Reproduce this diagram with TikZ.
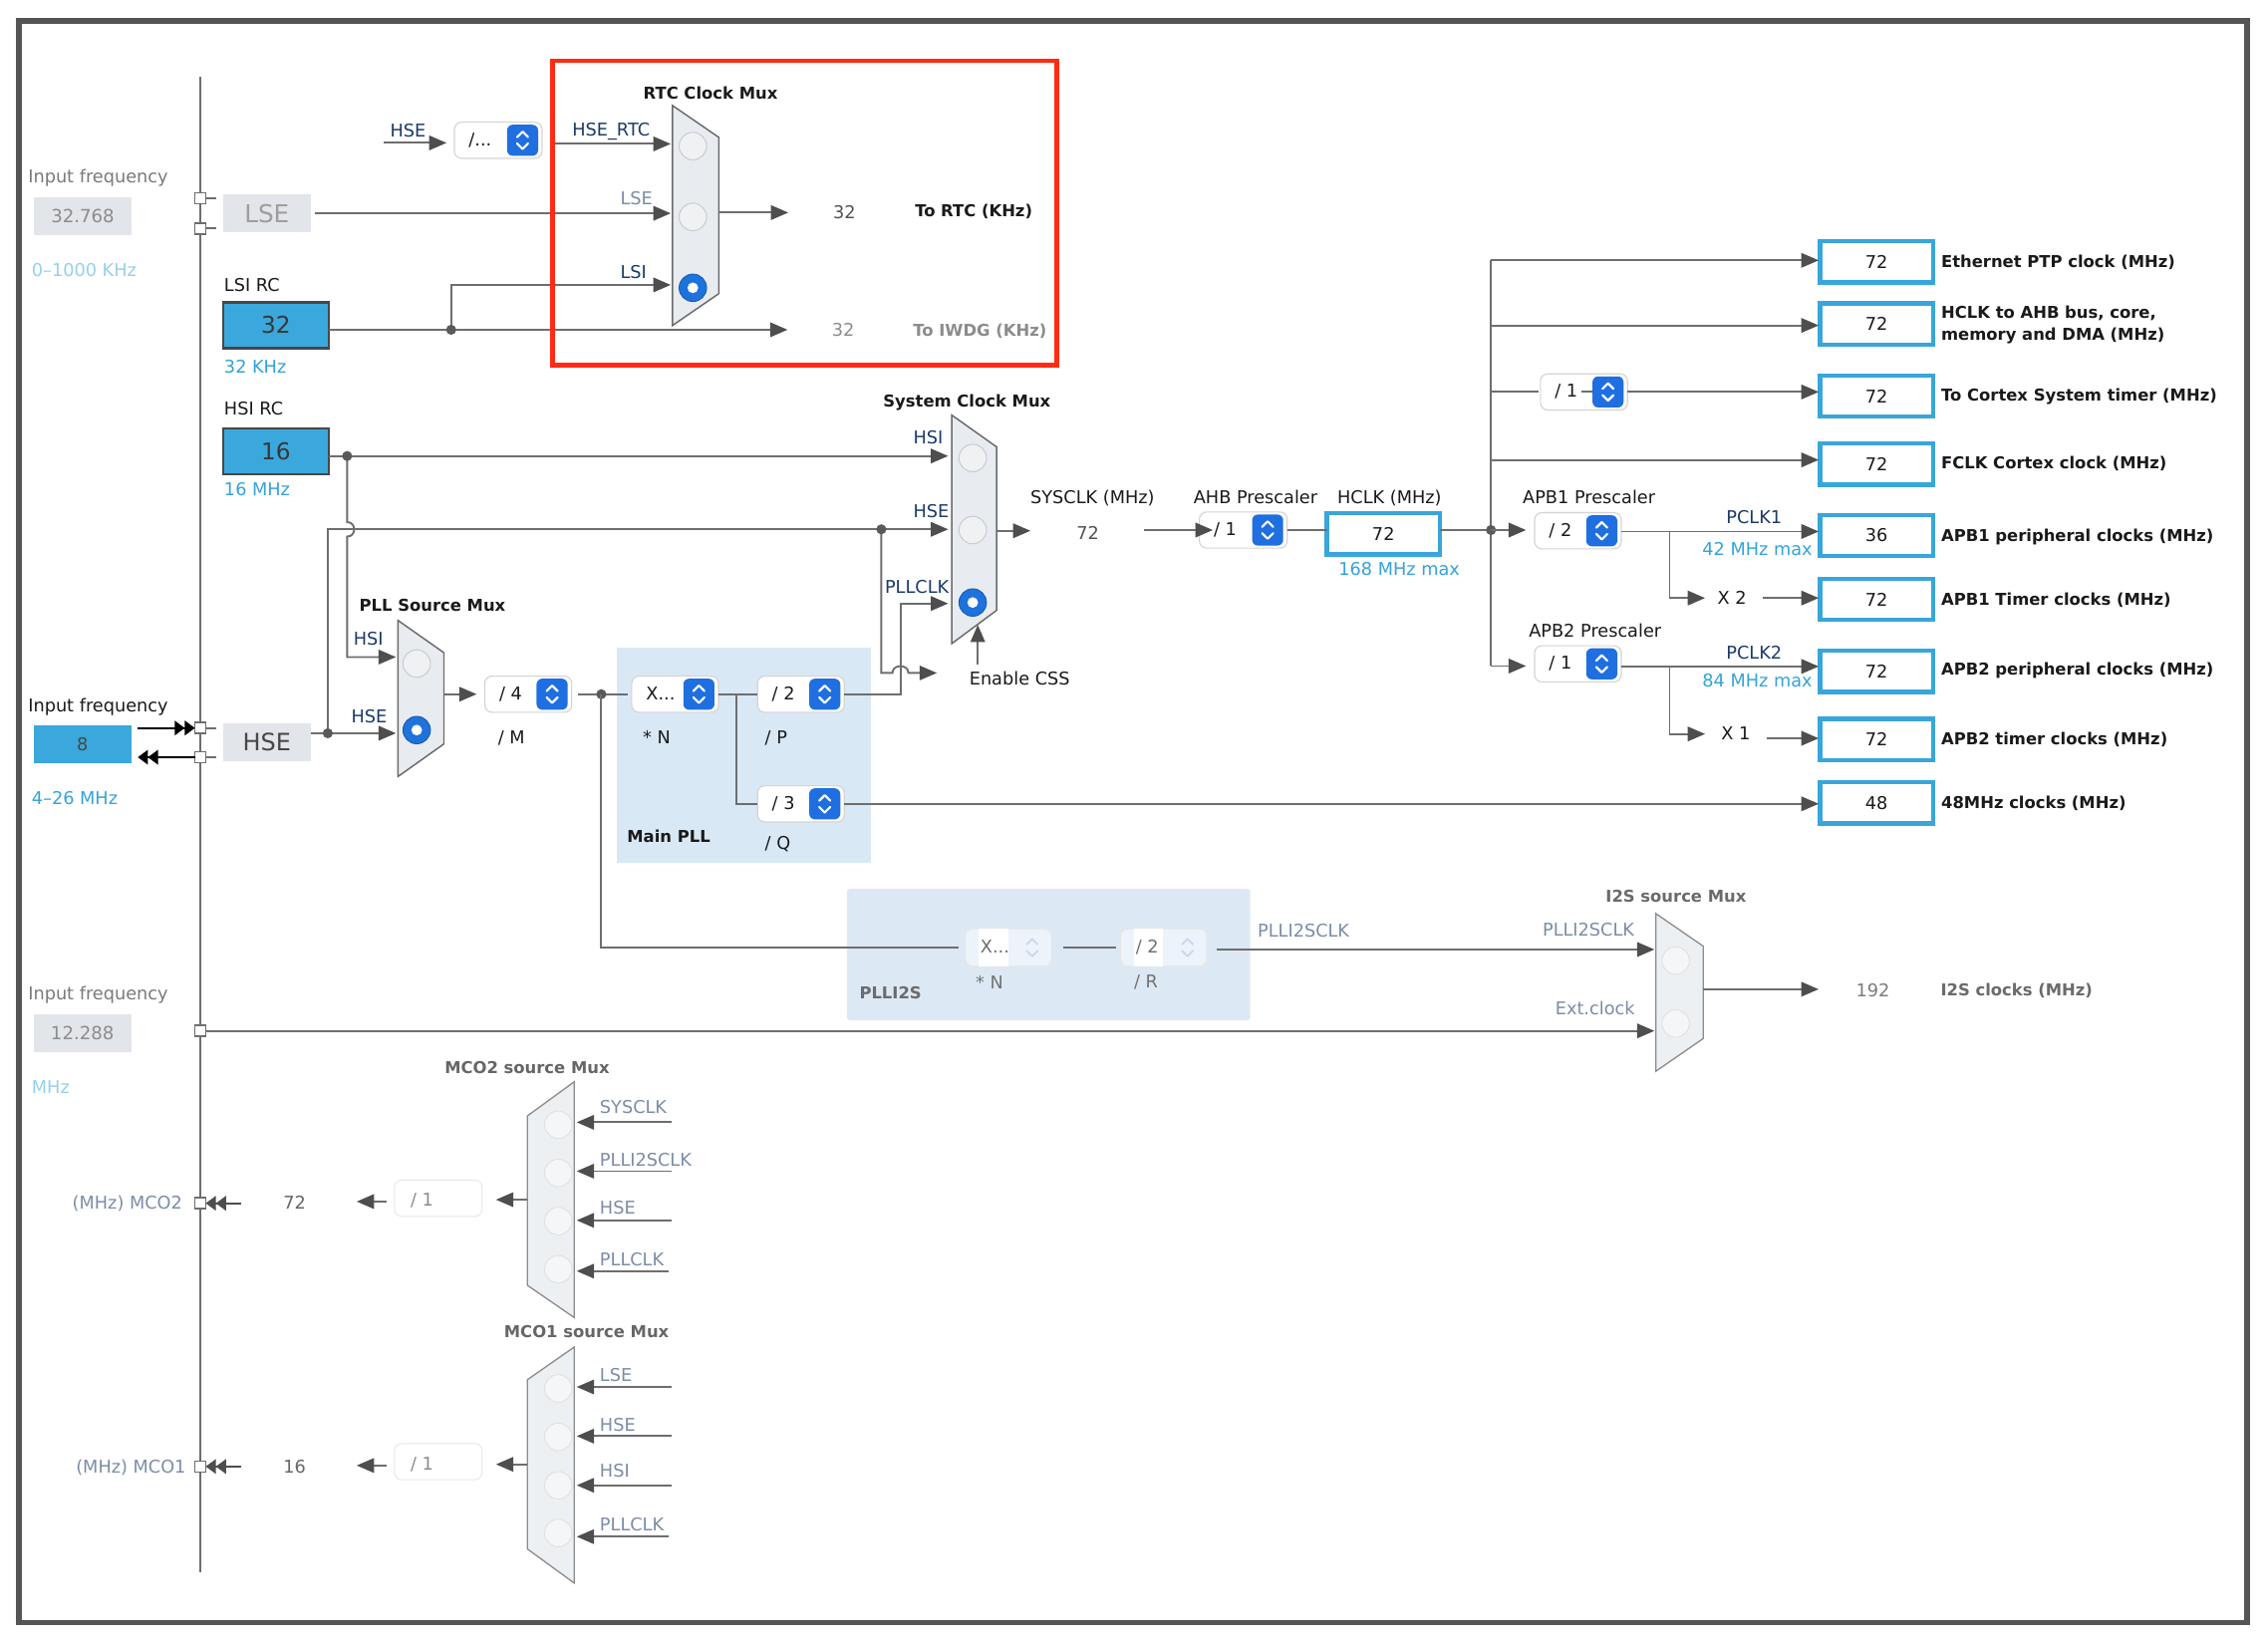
\documentclass[tikz,border=0pt]{standalone}
\usepackage{fontspec}
\setmainfont{DejaVu Sans}
\usetikzlibrary{arrows.meta,calc}
\definecolor{txt}{HTML}{1A1A1A}
\definecolor{linec}{HTML}{6E6E6E}
\definecolor{tipc}{HTML}{4E4E4E}
\definecolor{framec}{HTML}{555555}
\definecolor{navy}{HTML}{1B3A6B}
\definecolor{gtext}{HTML}{7A7A7A}
\definecolor{btext}{HTML}{33A3DA}
\definecolor{lbtext}{HTML}{95CFEE}
\definecolor{gbtext}{HTML}{7C8CA7}
\definecolor{boxblue}{HTML}{3AA8DC}
\definecolor{obord}{HTML}{38A6DB}
\definecolor{gboxc}{HTML}{E2E5E9}
\definecolor{muxf}{HTML}{E8ECF0}
\definecolor{muxd}{HTML}{6A6A6A}
\definecolor{fmuxf}{HTML}{EDF0F3}
\definecolor{fmuxd}{HTML}{8C8C8C}
\definecolor{radf}{HTML}{EFF1F3}
\definecolor{radd}{HTML}{C8CCD1}
\definecolor{selb}{HTML}{1E72DB}
\definecolor{spinb}{HTML}{1F6FE0}
\definecolor{pllreg}{HTML}{D9E8F5}
\definecolor{i2sreg}{HTML}{DCE9F5}
\definecolor{redc}{HTML}{FF2B14}
\definecolor{fadetxt}{HTML}{6E6E6E}
\definecolor{fadechev}{HTML}{C9D7E6}
\definecolor{dotc}{HTML}{5A5A5A}

\newcommand\pbox[5]{%
  \node[pbx, minimum width=#4pt, anchor=west] (#1) at (#2,#3) {};
  \node[anchor=mid west, yshift=-1pt] (#1-t) at ($(#1.west)+(10,0)$) {#5};
  \node[spn] (#1-s) at ($(#1.east)+(-13.5,0)$) {};
  \draw[white, line width=1.5pt, line cap=round, line join=round]
    ($(#1-s.center)+(-3.8,-2.2)$) -- ++(3.8,-3.8) -- ++(3.8,3.8)
    ($(#1-s.center)+(-3.8,2.2)$) -- ++(3.8,3.8) -- ++(3.8,-3.8);
}
\newcommand\fadedbox[5]{%
  \node[fbx] (#1) at (#2,#3) {};
  \fill[white] ($(#1.west)+(9.2,-12.8)$) rectangle ++(#5,25.6);
  \node[anchor=mid west, yshift=-1pt, text=fadetxt] (#1-t) at ($(#1.west)+(10.5,0)$) {#4};
  \draw[fadechev, line width=1.2pt, line cap=round, line join=round]
    ($(#1.east)+(-17.3,-2.2)$) -- ++(3.8,-3.8) -- ++(3.8,3.8)
    ($(#1.east)+(-17.3,2.2)$) -- ++(3.8,3.8) -- ++(3.8,-3.8);
}

\begin{document}
\begin{tikzpicture}[x=1pt,y=-1pt,
  every node/.append style={inner sep=0pt, outer sep=0pt, text=txt, font=\fontsize{12.2}{14}\selectfont},
  ln/.style={draw=linec, line width=1.3pt},
  ar/.style={ln, -{Triangle[length=12pt,width=10pt,color=tipc]}},
  dar/.style={draw=#1, line width=1.3pt, -{Triangle[length=7pt,width=10pt,color=#1]Triangle[length=7pt,width=10pt,color=#1]}},
  tx/.style={anchor=mid west, yshift=-1.5pt},
  tc/.style={anchor=mid, yshift=-1.5pt},
  te/.style={anchor=mid east, yshift=-1.5pt},
  btx/.style={font=\fontsize{11.3}{13}\selectfont\bfseries},
  pbx/.style={rectangle, rounded corners=5pt, fill=white, draw=black!17, line width=0.8pt, minimum height=25pt},
  fbx/.style={rectangle, rounded corners=5pt, fill=white!45!i2sreg, draw=black!10, line width=0.7pt, minimum width=59.7pt, minimum height=26pt},
  wbx/.style={rectangle, rounded corners=5pt, fill=white, draw=black!9, line width=0.7pt, minimum width=60.6pt, minimum height=25pt},
  spn/.style={rectangle, rounded corners=4pt, fill=spinb, minimum width=21.5pt, minimum height=21.5pt},
  radio/.style={circle, minimum size=19pt, fill=radf, draw=radd, line width=0.7pt},
  fradio/.style={circle, minimum size=19pt, fill=white!40!fmuxf, draw=black!12, line width=0.6pt},
  radiosel/.style={circle, minimum size=19pt, fill=selb, draw=selb!80!black, line width=0.6pt,
     path picture={\fill[white] (path picture bounding box.center) circle (3.7pt);}},
  dot/.style={circle, fill=dotc, minimum size=7pt},
  sq/.style={rectangle, draw=linec, fill=white, line width=1.1pt, minimum size=7.5pt},
  gbox/.style={rectangle, fill=gboxc},
  bbox/.style={rectangle, fill=boxblue, draw=black!72, line width=1.8pt, minimum width=73.2pt, minimum height=31.6pt, text=black!78, font=\fontsize{16}{16}\selectfont},
  obox/.style={rectangle, draw=obord, line width=3pt, fill=white, minimum width=78pt, minimum height=28.5pt},
  mux/.style={fill=muxf, draw=muxd, line width=1pt},
  fmux/.style={fill=fmuxf, draw=fmuxd, line width=0.9pt}
]
\fill[white] (0,0) rectangle (1568,1133);
\useasboundingbox (0,0) rectangle (1568,1133);
\draw[framec, line width=3.8pt] (13,14.5) rectangle (1553.5,1122);

% ---------- regions
\fill[pllreg] (426.5,447.8) rectangle (601.8,596.6);
\fill[i2sreg, rounded corners=2pt] (585.5,614.6) rectangle (864.3,705.4);

% ---------- left bus
\coordinate (busT) at (138.5,53);
\coordinate (busB) at (138.5,1087);
\draw[ln] (busT) -- (busB);

% ---------- LSE
\node[tx, text=gtext] (if1) at (19.5,122.5) {Input frequency};
\node[gbox, minimum width=67.6pt, minimum height=26pt, text=black!45, font=\fontsize{12.5}{14}\selectfont] (lsef) at (57.2,149.4) {32.768};
\node[tx, text=lbtext] (lser) at (22,187) {0–1000 KHz};
\node[sq] (sqL1) at (138.5,137) {};
\node[sq] (sqL2) at (138.5,158) {};
\draw[ln] (sqL1.east) -- ++(7.5,0);
\draw[ln] (sqL2.east) -- ++(7.5,0);
\node[gbox, minimum width=60.5pt, minimum height=26pt, text=black!38, font=\fontsize{17}{17}\selectfont] (lse) at (184.5,147.5) {LSE};

% ---------- LSI / HSI
\node[tx] (lsirc) at (155,197) {LSI RC};
\node[bbox] (lsi) at (190.8,224.8) {32};
\node[tx, text=btext] (lsik) at (155,253.5) {32 KHz};
\node[tx] (hsirc) at (155,283) {HSI RC};
\node[bbox] (hsi) at (190.8,312) {16};
\node[tx, text=btext] (hsim) at (155,338.5) {16 MHz};

% ---------- HSE input
\node[tx] (if2) at (19.5,488) {Input frequency};
\node[rectangle, fill=boxblue, minimum width=67.3pt, minimum height=26.1pt, text=black!72] (hsef) at (57,514.6) {8};
\node[tx, text=btext] (hser) at (22,552) {4–26 MHz};
\node[sq] (sqH1) at (138.5,503.4) {};
\node[sq] (sqH2) at (138.5,523.6) {};
\draw[ln] (sqH1.east) -- ++(7.5,0);
\draw[ln] (sqH2.east) -- ++(7.5,0);
\draw[dar=black] ([xshift=4.6pt]hsef.east |- sqH1) -- (sqH1.west);
\draw[dar=black] (sqH2.west) -- ([xshift=4.6pt]hsef.east |- sqH2);
\node[gbox, minimum width=61pt, minimum height=26pt, text=black!72, font=\fontsize{16.5}{17}\selectfont] (hse) at (184.5,513) {HSE};

% ---------- I2S input
\node[tx, text=gtext] (if3) at (19.5,687.3) {Input frequency};
\node[gbox, minimum width=67.3pt, minimum height=25.7pt, text=black!45, font=\fontsize{12.5}{14}\selectfont] (i2sf) at (57,714.5) {12.288};
\node[tx, text=lbtext] (i2sr) at (22,752) {MHz};
\node[sq] (sqI) at (138.5,712.8) {};

% ---------- RTC mux
\node[btx, tc] (rtct) at (491.2,64.3) {RTC Clock Mux};
\filldraw[mux] (465,73) -- (497,95) -- (497,203) -- (465,225) -- cycle;
\node[radio] (rtcr1) at (479,101) {};
\node[radio] (rtcr2) at (479,150) {};
\node[radiosel] (rtcr3) at (479,199) {};
\coordinate (rtcin1) at (463.7,99.5);
\coordinate (rtcin2) at (463.7,147.5);
\coordinate (rtcin3) at (463.7,197);
\coordinate (rtcout) at (497,147);
\node[tx, text=navy] (hsel1) at (269.8,90.7) {HSE};
\coordinate (hsel1s) at (265,98.8);
\draw[ar] (hsel1s) -- (308.7,98.8);
\pbox{hsediv}{314.1}{97}{60.7}{/...}
\draw[ar] ([xshift=5.7pt]hsediv.east |- rtcin1) -- (rtcin1);
\node[tx, text=navy] (rtcl1) at (395.7,89.6) {HSE\_RTC};
\node[tx, text=gbtext] (rtcl2) at (428.9,137.3) {LSE};
\node[tx, text=navy] (rtcl3) at (428.9,188.3) {LSI};
\draw[ar] ([xshift=3pt]lse.east |- rtcin2) -- (rtcin2);
\draw[ar] (rtcout) -- (545,147);
\node[tc, text=black!68] (rtcv) at (583.8,147) {32};
\node[tx, btx] (rtcn) at (632.6,145.8) {To RTC (KHz)};
\node[tc, text=black!45] (iwdgv) at (582.9,228) {32};
\node[tx, btx, text=black!45] (iwdgn) at (631.3,228.5) {To IWDG (KHz)};
\coordinate (lsidot) at (311.9,228);
\draw[ln] (lsi.east |- lsidot) -- (lsidot);
\draw[ar] (lsidot) -- (544.5,228);
\draw[ar] (lsidot) |- (rtcin3);
\node[dot] (lsid) at (lsidot) {};

% ---------- System clock mux
\node[btx, tc] (syst) at (668.5,277) {System Clock Mux};
\filldraw[mux] (658,287) -- (689,309) -- (689,422) -- (658,445) -- cycle;
\node[radio] (sysr1) at (672.5,316.7) {};
\node[radio] (sysr2) at (672.5,366.5) {};
\node[radiosel] (sysr3) at (672.5,416.6) {};
\coordinate (sysin1) at (655.5,315.3);
\coordinate (sysin2) at (655.5,366);
\coordinate (sysin3) at (655.5,417.3);
\node[tx, text=navy] (sysl1) at (631.5,302.7) {HSI};
\node[tx, text=navy] (sysl2) at (631.5,353.9) {HSE};
\node[tx, text=navy] (sysl3) at (611.8,406) {PLLCLK};

% HSI paths
\coordinate (hsidot) at (240,315.3);
\draw[ln] (hsi.east |- hsidot) -- (hsidot);
\draw[ar] (hsidot) -- (sysin1);
\coordinate (pllin1) at (273.7,454.3);
\coordinate (pllin2) at (273.7,507);
\draw[ar] (hsidot) -- (240,361) .. controls (246.5,361) and (246.5,371) .. (240,371) -- (240,454.3) -- (pllin1);
\node[dot] (hsid) at (hsidot) {};

% HSE paths
\coordinate (hsedot) at (226.6,507);
\draw[ln] (hse.east |- hsedot) -- (hsedot);
\draw[ar] (hsedot) -- (pllin2);
\draw[ar] (hsedot) -- (226.6,366) -- (sysin2);
\node[dot] (hsed) at (hsedot) {};
\coordinate (cssdot) at (609.3,366);
\draw[ar] (cssdot) -- (609.3,465.3) -- (617,465.3) .. controls (617,459) and (628,459) .. (628,465.3) -- (647.7,465.3);
\node[dot] (cssd) at (cssdot) {};
\node[tx] (css) at (670.2,469.2) {Enable CSS};
\draw[ar] (676,459.5) -- (676,432);

% ---------- PLL source mux and main PLL
\node[btx, tc] (pllt) at (299,418.5) {PLL Source Mux};
\filldraw[mux] (275.2,429) -- (306.9,451.3) -- (306.9,514.4) -- (275.2,536.9) -- cycle;
\node[radio] (pllr1) at (288.1,458.8) {};
\node[radiosel] (pllr2) at (288.1,504.8) {};
\node[tx, text=navy] (plll1) at (244.4,442) {HSI};
\node[tx, text=navy] (plll2) at (242.9,495.6) {HSE};
\draw[ar] (306.9,480) -- (329.5,480);
\pbox{pm}{335.2}{480}{60}{/ 4}
\node[tx] (pmt) at (344.4,509.8) {/ M};
\pbox{xn}{436.7}{480}{60}{X...}
\node[tx] (xnt) at (444.4,509.8) {* N};
\pbox{pp}{523.7}{480}{60}{/ 2}
\node[tx] (ppt) at (528.9,509.8) {/ P};
\pbox{pq}{523.7}{555.8}{60}{/ 3}
\node[tx] (pqt) at (528.9,583.3) {/ Q};
\node[tx, btx] (mpll) at (433.6,578.3) {Main PLL};
\coordinate (plldot) at (415.7,480);
\draw[ln] ([xshift=4.5pt]pm.east) -- ([xshift=-3pt]xn.west);
\coordinate (nj) at (508.9,480);
\draw[ln] (xn.east) -- (pp.west);
\draw[ln] (nj) |- (pq.west);
\draw[ar] (pp.east) -- (622.5,480) -- (622.5,417.3) -- (sysin3);
\node[dot] (plld) at (plldot) {};

% ---------- SYSCLK / AHB / HCLK
\draw[ar] (689,367) -- (712.4,367);
\node[tx] (sysclk) at (712.4,344.2) {SYSCLK (MHz)};
\node[tc, text=black!68] (sysv) at (752,368.8) {72};
\node[tx] (ahbt) at (825.2,344.2) {AHB Prescaler};
\pbox{ahb}{829.2}{366.5}{60.7}{/ 1}
\draw[ar] (790.8,366.5) -- (838.5,366.5);
\node[obox] (hclk) at (956.4,369.2) {72};
\node[tx] (hclkt) at (924.6,344.2) {HCLK (MHz)};
\node[tx, text=btext] (hclkm) at (925.5,393.6) {168 MHz max};
\draw[ln] (ahb.east) -- (ahb.east -| hclk.west);
\coordinate (hdot) at (1030.8,366.5);
\draw[ln] (hclk.east |- hdot) -- (hdot);

% ---------- outputs right
\node[obox] (o1) at (1297.35,181) {72};
\node[obox] (o2) at (1297.35,224) {72};
\node[obox] (o3) at (1297.35,273.8) {72};
\node[obox] (o4) at (1297.35,320.8) {72};
\node[obox] (o5) at (1297.35,370.3) {36};
\node[obox] (o6) at (1297.35,414.4) {72};
\node[obox] (o7) at (1297.35,464.2) {72};
\node[obox] (o8) at (1297.35,511.2) {72};
\node[obox] (o9) at (1297.35,555.1) {48};
\node[tx, btx] (n1) at (1342.1,181) {Ethernet PTP clock (MHz)};
\node[tx, btx] (n2a) at (1342.1,215.9) {HCLK to AHB bus, core,};
\node[tx, btx] (n2b) at (1342.1,230.9) {memory and DMA (MHz)};
\node[tx, btx] (n3) at (1342.1,273.3) {To Cortex System timer (MHz)};
\node[tx, btx] (n4) at (1342.1,320.2) {FCLK Cortex clock (MHz)};
\node[tx, btx] (n5) at (1342.1,370.2) {APB1 peripheral clocks (MHz)};
\node[tx, btx] (n6) at (1342.1,414.4) {APB1 Timer clocks (MHz)};
\node[tx, btx] (n7) at (1342.1,462.7) {APB2 peripheral clocks (MHz)};
\node[tx, btx] (n8) at (1342.1,510.8) {APB2 timer clocks (MHz)};
\node[tx, btx] (n9) at (1342.1,555) {48MHz clocks (MHz)};

\coordinate (v1) at (1030.8,180);
\coordinate (v2) at (1030.8,225);
\coordinate (v3) at (1030.8,271);
\coordinate (v4) at (1030.8,318);
\coordinate (v7) at (1030.8,460.5);
\draw[ln] (v1) -- (v7);
\draw[ar, shorten >=1pt] (v1) -- (v1 -| o1.west);
\draw[ar, shorten >=1pt] (v2) -- (v2 -| o2.west);
\draw[ar, shorten >=1pt] (v4) -- (v4 -| o4.west);
\pbox{cst}{1065}{271}{60.2}{/ 1}
\draw[ln] (v3) -- ([xshift=-1.5pt]cst.west);
\draw[ln] ([xshift=28pt]cst.west) -- (cst-s.west);
\draw[ar, shorten >=1pt] (cst.east) -- (cst.east -| o3.west);
\node[dot] (hd) at (hdot) {};

% APB1
\node[tx] (apb1t) at (1052.8,344) {APB1 Prescaler};
\pbox{apb1}{1060.9}{367}{60}{/ 2}
\draw[ar] (hdot) -- (1055,366.5);
\coordinate (a1j) at (1154.3,367.5);
\draw[ar, shorten >=1pt] (apb1.east |- a1j) -- (a1j -| o5.west);
\node[tx, text=navy] (pclk1) at (1193.5,357.9) {PCLK1};
\node[tx, text=btext] (pclk1m) at (1177,379.7) {42 MHz max};
\draw[ar] (a1j) |- (1178.8,413.5);
\node[tx] (x2) at (1187.5,413.5) {X 2};
\draw[ar, shorten >=1pt] (1219,413.5) -- (o6.west |- 1219,413.5);

% APB2
\node[tx] (apb2t) at (1057,436.5) {APB2 Prescaler};
\pbox{apb2}{1060.9}{459}{60}{/ 1}
\draw[ar] (v7) -- (1055,460.5);
\coordinate (a2j) at (1154.3,460.8);
\draw[ar, shorten >=1pt] (apb2.east |- a2j) -- (a2j -| o7.west);
\node[tx, text=navy] (pclk2) at (1193.5,451.8) {PCLK2};
\node[tx, text=btext] (pclk2m) at (1177,470.9) {84 MHz max};
\draw[ar] (a2j) |- (1178.8,507.5);
\node[tx] (x1) at (1190,507.3) {X 1};
\draw[ar, shorten >=1pt] (1221.4,510.5) -- (o8.west |- 1221.4,510.5);

% 48 MHz
\draw[ar, shorten >=1pt] (pq.east) -- (pq.east -| o9.west);

% ---------- PLLI2S
\fadedbox{i2sN}{697.2}{655.2}{X...}{20.6}
\fadedbox{i2sR}{804.6}{655.2}{/ 2}{19.8}
\draw[ln] (plldot) |- ([xshift=-4.7pt]i2sN.west);
\draw[ln] ([xshift=7.8pt]i2sN.east) -- ([xshift=-3.4pt]i2sR.west);
\coordinate (i2sin1) at (1143.8,656.5);
\draw[ar] ([xshift=6.6pt]i2sR.east |- i2sin1) -- (i2sin1);
\node[tx, text=gbtext] (pi2sl) at (869.5,643.8) {PLLI2SCLK};
\node[tx, text=black!55] (i2sNt) at (674.5,679.7) {* N};
\node[tx, text=black!55] (i2sRt) at (784,679) {/ R};
\node[tx, btx, text=black!58] (i2st) at (594.2,686.6) {PLLI2S};

% ---------- I2S mux
\node[tc, btx, text=black!58] (i2smt) at (1158.7,619.8) {I2S source Mux};
\filldraw[fmux] (1144.8,631.7) -- (1177.5,654.2) -- (1177.5,718.1) -- (1144.8,740.7) -- cycle;
\node[fradio] (i2sr1) at (1158.5,664.2) {};
\node[fradio] (i2sr2) at (1158.5,707.7) {};
\node[tx, text=gbtext] (i2sl1) at (1066.5,643) {PLLI2SCLK};
\node[tx, text=gbtext] (i2sl2) at (1075.3,697.2) {Ext.clock};
\coordinate (i2sin2) at (1143.8,712.8);
\draw[ar] (sqI.east) -- (i2sin2);
\draw[ar] (1177.5,684) -- (1257.3,684);
\node[tc, text=black!52] (i2sv) at (1294.8,684.9) {192};
\node[tx, btx, text=black!58] (i2sn) at (1341.7,684) {I2S clocks (MHz)};

% ---------- MCO2
\node[tc, btx, text=black!60] (mco2t) at (364.4,738.3) {MCO2 source Mux};
\filldraw[fmux] (397,748) -- (397,911) -- (364.6,888.7) -- (364.6,771.6) -- cycle;
\node[fradio] (m2r1) at (386,777.7) {};
\node[fradio] (m2r2) at (386,811) {};
\node[fradio] (m2r3) at (386,844.3) {};
\node[fradio] (m2r4) at (386,877.6) {};
\draw[ar] (464,776) -- (398.7,776);
\draw[ar] (464,809.8) -- (398.7,809.8);
\draw[ar] (464,843.8) -- (398.7,843.8);
\draw[ar] (462.5,878.9) -- (398.7,878.9);
\node[tx, text=gbtext] (m2l1) at (414.7,765.9) {SYSCLK};
\node[tx, text=gbtext] (m2l2) at (414.7,801.9) {PLLI2SCLK};
\node[tx, text=gbtext] (m2l3) at (414.7,835) {HSE};
\node[tx, text=gbtext] (m2l4) at (414.7,870.7) {PLLCLK};
\draw[ar] (364.6,829.5) -- (342.9,829.5);
\node[wbx] (m2d) at (303,828.5) {};
\node[tx, text=black!45] (m2dt) at (283.9,829.5) {/ 1};
\draw[ar] (m2d.west |- 0,830.8) ++(-5.4,0) -- (246.6,830.8);
\node[tc, text=black!60] (m2v) at (203.7,832) {72};
\node[sq] (sqM2) at (138.5,832) {};
\draw[dar=tipc] (166.5,832) -- (sqM2.east);
\node[te, text=gbtext] (m2n) at (126,832) {(MHz) MCO2};

% ---------- MCO1
\node[tc, btx, text=black!60] (mco1t) at (405.5,920.8) {MCO1 source Mux};
\filldraw[fmux] (397,931.4) -- (397,1094.6) -- (364.6,1071) -- (364.6,954) -- cycle;
\node[fradio] (m1r1) at (386,960) {};
\node[fradio] (m1r2) at (386,993.5) {};
\node[fradio] (m1r3) at (386,1027) {};
\node[fradio] (m1r4) at (386,1060) {};
\draw[ar] (464,959) -- (398.7,959);
\draw[ar] (464,993) -- (398.7,993);
\draw[ar] (464,1027) -- (398.7,1027);
\draw[ar] (462.5,1062.5) -- (398.7,1062.5);
\node[tx, text=gbtext] (m1l1) at (414.7,951.1) {LSE};
\node[tx, text=gbtext] (m1l2) at (414.7,985.6) {HSE};
\node[tx, text=gbtext] (m1l3) at (414.7,1016.9) {HSI};
\node[tx, text=gbtext] (m1l4) at (414.7,1054.4) {PLLCLK};
\draw[ar] (364.6,1012.5) -- (342.9,1012.5);
\node[wbx] (m1d) at (303,1010.6) {};
\node[tx, text=black!45] (m1dt) at (283.9,1012) {/ 1};
\draw[ar] (m1d.west |- 0,1013.3) ++(-5.4,0) -- (246.6,1013.3);
\node[tc, text=black!60] (m1v) at (203.7,1014) {16};
\node[sq] (sqM1) at (138.5,1014) {};
\draw[dar=tipc] (166.5,1014) -- (sqM1.east);
\node[te, text=gbtext] (m1n) at (128.5,1014) {(MHz) MCO1};

% ---------- red highlight
\draw[redc, line width=3.2pt] (382,42) rectangle (730.5,252.5);
\end{tikzpicture}
\end{document}
